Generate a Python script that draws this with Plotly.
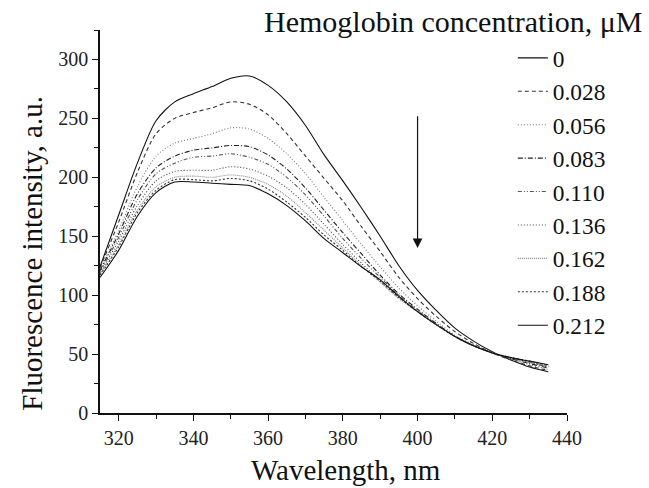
#### Load Libraries ####
import plotly.graph_objects as go

#### Data ####
wavelength = [315, 320, 325, 330, 335, 340, 345, 350, 355, 360, 365, 370, 375,
              380, 385, 390, 395, 400, 405, 410, 415, 420, 425, 430, 435]

concentrations = ["0", "0.028", "0.056", "0.083", "0.110", "0.136", "0.162", "0.188", "0.212"]

fl_0 = [124, 168, 212, 248, 264, 271, 277, 284, 286, 278, 264, 244, 219,
        197, 174, 150, 125, 104, 87, 72, 61, 52, 45, 39, 35]
fl_028 = [123, 162, 204, 237, 250, 255, 259, 264, 262, 253, 237, 218, 199,
          180, 158, 137, 115, 97, 82, 69, 59, 51, 45, 40, 36]
fl_056 = [122, 155, 192, 218, 229, 233, 237, 242, 241, 233, 220, 203, 183,
          163, 143, 124, 106, 91, 78, 66, 58, 51, 46, 41, 37]
fl_083 = [121, 152, 186, 208, 218, 223, 225, 227, 226, 219, 207, 191, 172,
          153, 135, 117, 101, 88, 76, 65, 57, 51, 46, 42, 38]
fl_110 = [120, 149, 181, 203, 212, 217, 218, 220, 217, 211, 200, 185, 167,
          148, 131, 115, 100, 87, 75, 65, 57, 51, 47, 43, 39]
fl_136 = [119, 146, 176, 197, 205, 206, 206, 209, 207, 201, 191, 177, 160,
          143, 127, 112, 98, 86, 75, 65, 57, 51, 47, 43, 39]
fl_162 = [118, 143, 172, 192, 200, 201, 200, 202, 200, 194, 184, 170, 155,
          140, 125, 111, 97, 86, 75, 65, 57, 51, 47, 43, 40]
fl_188 = [117, 141, 170, 189, 198, 198, 197, 199, 197, 190, 179, 166, 151,
          138, 124, 112, 98, 86, 75, 65, 57, 51, 47, 44, 40]
fl_212 = [115, 138, 167, 187, 196, 196, 195, 194, 193, 186, 176, 163, 148,
          136, 124, 113, 99, 86, 75, 65, 57, 51, 47, 44, 41]

series = [fl_0, fl_028, fl_056, fl_083, fl_110, fl_136, fl_162, fl_188, fl_212]

# line look for each concentration
dashes = ["solid", "4px,3px", "1px,2px", "5px,2px,1px,2px", "4px,2px,1px,2px,1px,2px",
          "1px,2px", "1px,1px", "2px,2px", "solid"]
colors = ["#111", "#333", "#777", "#222", "#555", "#444", "#888", "#333", "#111"]

font_name = "Liberation Serif"


#### Build Figure ####
def makeFigure():
    fig = go.Figure()
    for i in range(len(series)):
        fig.add_trace(go.Scatter(
            x=wavelength, y=series[i], name=concentrations[i], mode="lines",
            line=dict(color=colors[i], width=1.1, dash=dashes[i], shape="spline", smoothing=0.8)
        ))

    # arrow showing the quenching direction
    fig.add_annotation(x=400, y=140, ax=400, ay=253, xref="x", yref="y", axref="x", ayref="y",
                       text="", showarrow=True, arrowhead=2, arrowsize=1.6, arrowwidth=1.2,
                       arrowcolor="#111")

    # legend title sits to the left of the entries
    fig.add_annotation(x=1.167, y=1.021, xref="paper", yref="paper", xanchor="right",
                       yanchor="middle", text="Hemoglobin concentration, μM", showarrow=False,
                       font=dict(family=font_name, size=30, color="#111"))

    # axis titles placed as in the original figure
    fig.add_annotation(x=0.527, y=-0.149, xref="paper", yref="paper", xanchor="center",
                       yanchor="middle", text="Wavelength, nm", showarrow=False,
                       font=dict(family=font_name, size=29, color="#111"))
    fig.add_annotation(x=-0.146, y=0.418, xref="paper", yref="paper", xanchor="center",
                       yanchor="middle", text="Fluorescence intensity, a.u.", showarrow=False,
                       textangle=-90, font=dict(family=font_name, size=29, color="#111"))

    fig.update_layout(
        width=649, height=488,
        margin=dict(l=100, r=82, t=30, b=75, autoexpand=False),
        plot_bgcolor="white", paper_bgcolor="white",
        font=dict(family=font_name, color="#111"),
        legend=dict(x=0.884, y=0.984, xanchor="left", yanchor="top",
                    font=dict(family=font_name, size=23.4, color="#111"),
                    bgcolor="rgba(0,0,0,0)", tracegroupgap=0),
        showlegend=True
    )
    fig.update_xaxes(
        range=[315, 440], tickvals=[320, 340, 360, 380, 400, 420, 440],
        ticks="outside", ticklen=6, tickwidth=1.2, tickcolor="#111",
        minor=dict(tickvals=[330, 350, 370, 390, 410, 430], ticks="outside", ticklen=4,
                   tickwidth=1.2, tickcolor="#111"),
        showline=True, linecolor="#111", linewidth=1.5, mirror=False,
        showgrid=False, zeroline=False,
        tickfont=dict(family=font_name, size=20, color="#222")
    )
    fig.update_yaxes(
        range=[0, 325], tickvals=[0, 50, 100, 150, 200, 250, 300],
        ticks="outside", ticklen=6, tickwidth=1.2, tickcolor="#111",
        minor=dict(tickvals=[25, 75, 125, 175, 225, 275, 325], ticks="outside", ticklen=4,
                   tickwidth=1.2, tickcolor="#111"),
        showline=True, linecolor="#111", linewidth=1.5, mirror=False,
        showgrid=False, zeroline=False,
        tickfont=dict(family=font_name, size=20, color="#222")
    )
    return fig


def main():
    fig = makeFigure()
    # page body has a default 8px margin, drop it so the figure fills the window
    fig.write_html("out.html", config={"displayModeBar": False},
                   post_script="document.body.style.margin='0';")


if __name__ == '__main__':
    main()
